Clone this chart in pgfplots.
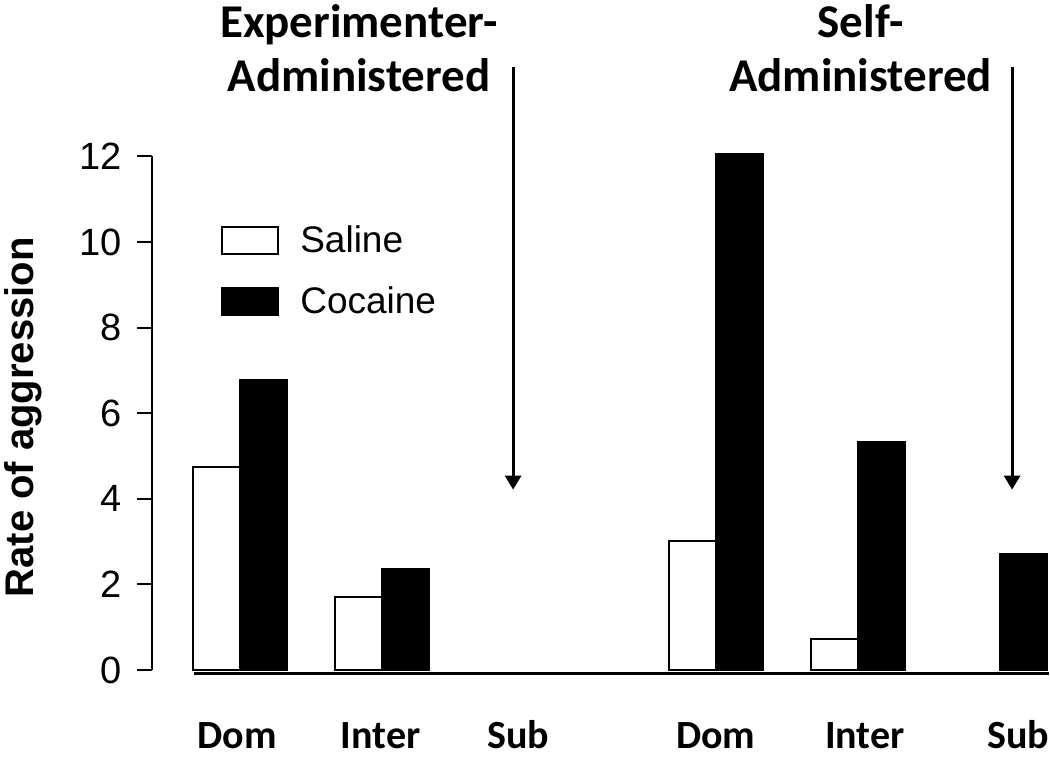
\documentclass[border=0pt]{standalone}
\usepackage{pgfplots}
\pgfplotsset{compat=1.18}
\usetikzlibrary{arrows.meta}
\usepackage{fontspec}
\setmainfont{Liberation Sans}
\newfontfamily\calibri{Carlito}
\begin{document}
\begin{tikzpicture}
\useasboundingbox (-76pt,-50pt) rectangle (449pt,335pt);
\begin{axis}[
  at={(0,0)}, anchor=south west,
  x=71pt, y=21.4pt,
  xmin=-0.62, xmax=5.70, ymin=0, ymax=12,
  axis lines=left, axis line style={-},
  x axis line style={draw=none},
  y axis line style={line width=1pt},
  ybar, bar width=0.33,
  ytick={0,2,...,12},
  xtick={-0.02,0.99,1.96,3.35,4.40,5.48},
  xticklabels={Dom,Inter,Sub,Dom,Inter,Sub},
  xticklabel style={anchor=base, yshift=-32pt, font=\calibri\bfseries\fontsize{20}{24}\selectfont},
  major x tick style={draw=none},
  tick align=outside, major tick length=7.5pt,
  ytick style={line width=1pt, black},
  yticklabel style={font=\fontsize{19}{22}\selectfont, xshift=-4pt},
  /pgf/number format/assume math mode=true,
  ylabel={Rate of aggression},
  ylabel style={at={(rel axis cs:-0.1325,0.492)}, anchor=base, font=\bfseries\fontsize{20}{24}\selectfont},
  clip=false,
  legend style={at={(0.0768,0.874)}, anchor=north west, draw=none, fill=none,
    inner sep=0pt, row sep=11.5pt, cells={anchor=west},
    font=\fontsize{18.5}{21}\selectfont,
    /tikz/every odd column/.append style={column sep=8.5pt}},
  legend image code/.code={\draw[#1, line width=1pt] (0pt,-6.75pt) rectangle (28pt,6.75pt);},
]
\addplot[fill=white, draw=black, line width=1pt, bar shift=-0.165] coordinates {
  (0,4.75) (1,1.70) (3.35,3.02) (4.35,0.73)
};
\addlegendentry{Saline}
\addplot[fill=black, draw=black, line width=1pt, bar shift=0.165] coordinates {
  (0,6.77) (1,2.37) (3.35,12.05) (4.35,5.32) (5.35,2.72)
};
\addlegendentry{Cocaine}
\draw[line width=1.2pt] (axis cs:-0.324,-0.08) -- (axis cs:5.70,-0.08);
\draw[line width=1.5pt, -{Triangle[width=8pt,length=7pt]}] (axis cs:1.923,14.1) -- (axis cs:1.923,4.215);
\draw[line width=1.5pt, -{Triangle[width=8pt,length=7pt]}] (axis cs:5.437,14.1) -- (axis cs:5.437,4.215);
\node[anchor=base, font=\calibri\bfseries\fontsize{23.5}{28}\selectfont] at (axis cs:0.838,14.78) {Experimenter-};
\node[anchor=base, font=\calibri\bfseries\fontsize{23.5}{28}\selectfont] at (axis cs:0.838,13.52) {Administered};
\node[anchor=base, font=\calibri\bfseries\fontsize{23.5}{28}\selectfont] at (axis cs:4.37,14.78) {Self-};
\node[anchor=base, font=\calibri\bfseries\fontsize{23.5}{28}\selectfont] at (axis cs:4.37,13.52) {Administered};
\end{axis}
\end{tikzpicture}
\end{document}
